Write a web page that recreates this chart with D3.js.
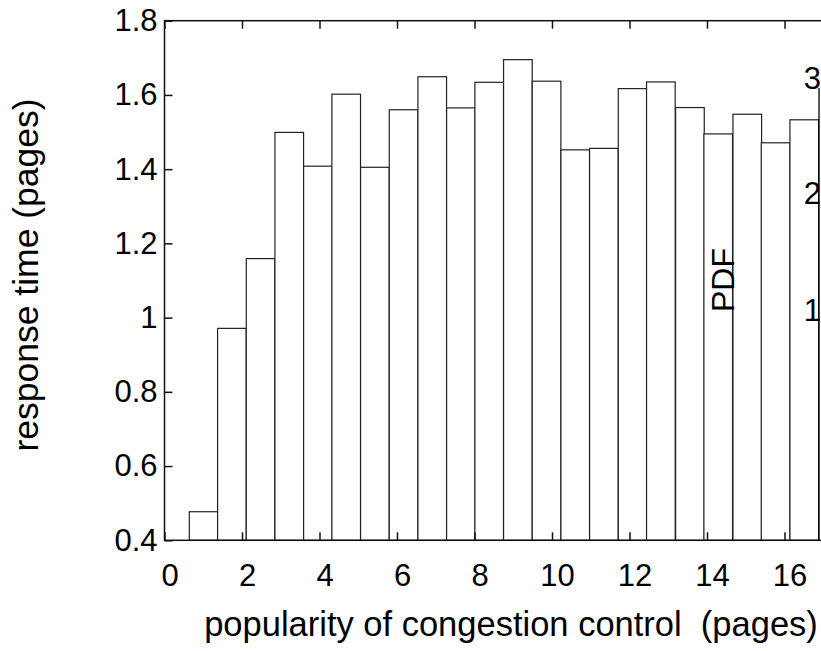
<!DOCTYPE html>
<html><head><meta charset="utf-8">
<script src="https://cdn.jsdelivr.net/npm/d3@7"></script>
<style>body{margin:0;background:#fff}svg{display:block}text{font-family:"Liberation Sans",Arial,sans-serif;fill:#000}</style>
</head><body><svg id="c" width="821" height="651"></svg>
<script>
// bin left edges (x units) and bar heights (response time, pages)
const binLefts = [0.64, 1.37, 2.11, 2.85, 3.59, 4.32, 5.06, 5.80, 6.54, 7.28, 8.01, 8.75, 9.49, 10.23, 10.97, 11.71, 12.44, 13.19, 13.92, 14.67, 15.40, 16.14];
const binWidth = 0.739;
const values = [0.477, 0.971, 1.159, 1.499, 1.408, 1.602, 1.405, 1.560, 1.649, 1.565, 1.634, 1.695, 1.637, 1.452, 1.456, 1.617, 1.635, 1.566, 1.495, 1.548, 1.471, 1.533];
const xTicks = [0, 2, 4, 6, 8, 10, 12, 14, 16];
const yTicks = [0.4, 0.6, 0.8, 1.0, 1.2, 1.4, 1.6, 1.8];
const overlayTicks = ["3", "2", "1"];
const overlayTickPos = [78, 193, 310];

const svg = d3.select("#c");
const L = 164.5, T = 20.7, B = 540.3;
const x = d3.scaleLinear().domain([0, 17]).range([L, L + 17 * 38.75]);
const y = d3.scaleLinear().domain([0.4, 1.8]).range([B, T]);

// bars
svg.append("g").selectAll("rect").data(values).join("rect")
  .attr("x", (d, i) => x(binLefts[i]))
  .attr("width", (d, i) => x(binLefts[i] + binWidth) - x(binLefts[i]))
  .attr("y", d => y(d))
  .attr("height", d => y(0.4) - y(d))
  .attr("fill", "#fff").attr("stroke", "#222").attr("stroke-width", 1.2);

// axes
const fmtY = d => d === 1 ? "1" : d3.format(".1f")(d);
const gx = svg.append("g").attr("transform", `translate(0,${B})`)
  .call(d3.axisBottom(x).tickValues(xTicks).tickSize(-8).tickPadding(24).tickFormat(d3.format("d")));
gx.selectAll("text").attr("dx", 5).style("font-size", "31px");
const gxt = svg.append("g").attr("transform", `translate(0,${T})`)
  .call(d3.axisTop(x).tickValues(xTicks).tickSize(-8).tickFormat(""));
const gy = svg.append("g").attr("transform", `translate(${L},0)`)
  .call(d3.axisLeft(y).tickValues(yTicks).tickSize(-8).tickPadding(7).tickFormat(fmtY));
gy.selectAll("text").style("font-size", "31px");
[gx, gxt, gy].forEach(g => {
  g.select(".domain").remove();
  g.selectAll("line").attr("stroke", "#111").attr("stroke-width", 1.5);
  g.selectAll("text").attr("font-family", null);
});

// frame
svg.append("rect").attr("x", L).attr("y", T).attr("width", x(17) - L).attr("height", B - T)
  .attr("fill", "none").attr("stroke", "#111").attr("stroke-width", 1.5);

// overlay fragments at right edge
svg.append("line").attr("x1", 819).attr("x2", 819).attr("y1", 88).attr("y2", B)
  .attr("stroke", "#000").attr("stroke-width", 1.3);
svg.append("g").selectAll("text").data(overlayTicks).join("text")
  .attr("x", 821).attr("y", (d, i) => overlayTickPos[i]).attr("dy", "0.35em")
  .attr("text-anchor", "end").style("font-size", "31px").text(d => d);
svg.append("text").attr("transform", "translate(734,280) rotate(-90)")
  .attr("text-anchor", "middle").style("font-size", "32px").text("PDF");

// axis labels
svg.append("text").attr("x", 511).attr("y", 636).attr("text-anchor", "middle")
  .style("font-size", "34.5px").text("popularity of congestion control\u00a0 (pages)");
svg.append("text").attr("transform", "translate(38,275) rotate(-90)")
  .attr("text-anchor", "middle").style("font-size", "35.5px").text("response time (pages)");
</script></body></html>
